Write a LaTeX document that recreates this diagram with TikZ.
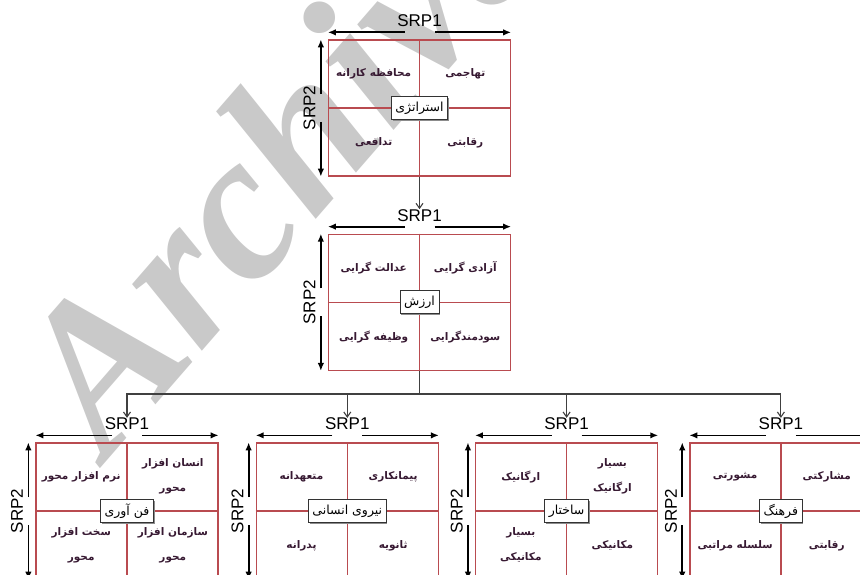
\documentclass[tikz,border=0pt]{standalone}
\usepackage{fontspec}
\setmainfont{Liberation Sans}
\newfontfamily\fafont[Script=Arabic]{DejaVu Sans}
\newfontfamily\wmfont{Liberation Serif}
\TeXXeTstate=1
\usepackage{xcolor}
\usepackage{tikz}
\usetikzlibrary{arrows.meta, positioning, calc, shadows}
\definecolor{gridred}{RGB}{185,75,80}
\definecolor{celltxt}{RGB}{55,25,50}
\newcommand{\fa}[1]{\beginR#1\endR}
\tikzset{
    gridbox/.style={rectangle, draw=gridred, line width=1.3pt, minimum width=182pt, minimum height=136pt, inner sep=0pt},
    gridline/.style={draw=gridred, line width=1.3pt},
    cell/.style={font=\fafont\bfseries\fontsize{10.5}{25}\selectfont, text=celltxt, align=center},
    core/.style={rectangle, draw=black!80, fill=white, line width=0.8pt, font=\fafont\fontsize{12.5}{14}\selectfont, inner xsep=4pt, minimum height=23pt, drop shadow={shadow xshift=1.2pt, shadow yshift=-1.2pt, fill=black!45, opacity=1}},
    srplabel/.style={font=\fontsize{17}{17}\selectfont, inner sep=0pt},
    srparrow/.style={-{Latex[length=8pt,width=6.5pt]}, line width=1.7pt},
    link/.style={-{Straight Barb[length=5pt,width=7pt]}, draw=black!75, line width=1.1pt},
    watermark/.style={font=\wmfont\bfseries\itshape\fontsize{210}{210}\selectfont, text=gray!42, rotate=49},
}
% #1 name, #2 placement, #3 core label, #4 top left, #5 top right, #6 bottom left, #7 bottom right
\newcommand{\srpgrid}[7]{%
    \node[gridbox, #2] (#1) {};
    \draw[gridline] (#1.north) -- (#1.south);
    \draw[gridline] (#1.west) -- (#1.east);
    \node[cell] (#1-tl) at ($(#1.center)!0.5!(#1.north west)$) {#4};
    \node[cell] (#1-tr) at ($(#1.center)!0.5!(#1.north east)$) {#5};
    \node[cell] (#1-bl) at ($(#1.center)!0.5!(#1.south west)$) {#6};
    \node[cell] (#1-br) at ($(#1.center)!0.5!(#1.south east)$) {#7};
    \node[core] (#1-c) at (#1.center) {#3};
    \node[srplabel, above=12pt of #1] (#1-h) {SRP1};
    \draw[srparrow] ($(#1.north)+(-15pt,7pt)$) -- ($(#1.north west)+(0,7pt)$);
    \draw[srparrow] ($(#1.north)+(15pt,7pt)$) -- ($(#1.north east)+(0,7pt)$);
    \node[srplabel, rotate=90, anchor=south] (#1-v) at ($(#1.west)+(-12pt,0)$) {SRP2};
    \draw[srparrow] ($(#1.west)+(-7pt,14pt)$) -- ($(#1.north west)+(-7pt,0)$);
    \draw[srparrow] ($(#1.west)+(-7pt,-14pt)$) -- ($(#1.south west)+(-7pt,0)$);
}

\begin{document}
\begin{tikzpicture}[x=1pt, y=1pt]
    \useasboundingbox (0,0) rectangle (860,-575);
    \clip (0,0) rectangle (860,-575);
    \node[watermark] (mark) at (275,-158) {Archive};

    \srpgrid{strat}{at={(419.5,-108)}}{\fa{استراتژی}}{\fa{محافظه کارانه}}{\fa{تهاجمی}}{\fa{تدافعی}}{\fa{رقابتی}}
    \srpgrid{val}{below=57pt of strat}{\fa{ارزش}}{\fa{عدالت گرایی}}{\fa{آزادی گرایی}}{\fa{وظیفه گرایی}}{\fa{سودمندگرایی}}

    \srpgrid{tech}{at={(127,-511)}}{\fa{فن آوری}}{\fa{نرم افزار محور}}{\fa{انسان افزار}\\\fa{محور}}{\fa{سخت افزار}\\\fa{محور}}{\fa{سازمان افزار}\\\fa{محور}}
    \srpgrid{hr}{right=37pt of tech}{\fa{نیروی انسانی}}{\fa{متعهدانه}}{\fa{پیمانکاری}}{\fa{پدرانه}}{\fa{ثانویه}}
    \srpgrid{struct}{right=36pt of hr}{\fa{ساختار}}{\fa{ارگانیک}}{\fa{بسیار}\\\fa{ارگانیک}}{\fa{بسیار}\\\fa{مکانیکی}}{\fa{مکانیکی}}
    \srpgrid{cult}{right=31pt of struct}{\fa{فرهنگ}}{\fa{مشورتی}}{\fa{مشارکتی}}{\fa{سلسله مراتبی}}{\fa{رقابتی}}

    \draw[link] (strat.south) -- (val-h.north);
    \draw[link] (val.south) -- ++(0,-23pt) -| (tech-h.north);
    \draw[link] (val.south) -- ++(0,-23pt) -| (hr-h.north);
    \draw[link] (val.south) -- ++(0,-23pt) -| (struct-h.north);
    \draw[link] (val.south) -- ++(0,-23pt) -| (cult-h.north);
\end{tikzpicture}
\end{document}
